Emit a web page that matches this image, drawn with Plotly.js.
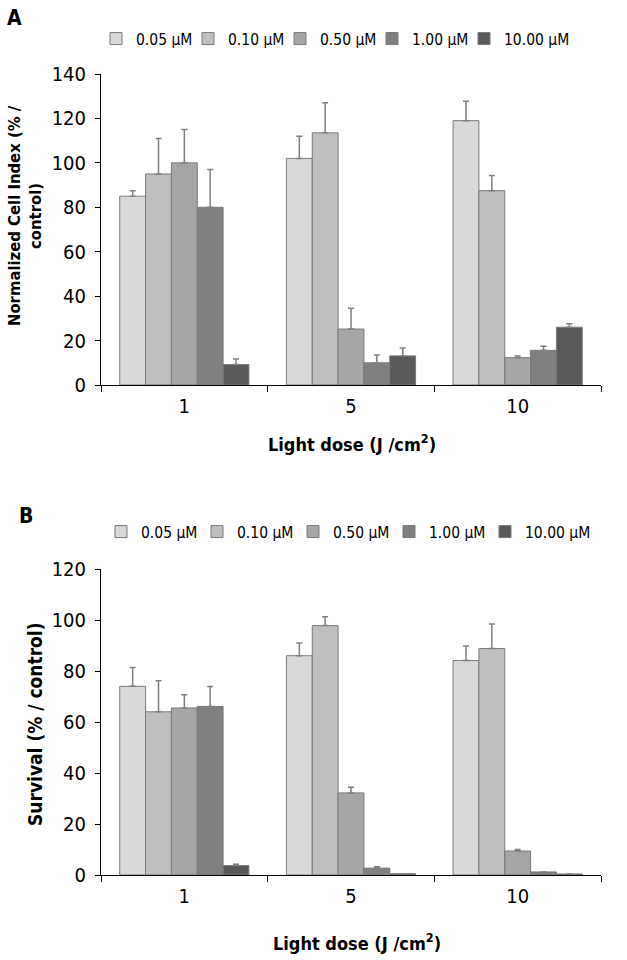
<!DOCTYPE html>
<html>
<head>
<meta charset="utf-8">
<script src="https://cdn.plot.ly/plotly-3.0.1.min.js"></script>
<style>
  html, body { margin: 0; padding: 0; background: #ffffff; }
  #chart { width: 627px; height: 960px; }
</style>
</head>
<body>
<div id="chart"></div>
<script>
var doses = ['1', '5', '10'];
var concentrations = ['0.05 µM', '0.10 µM', '0.50 µM', '1.00 µM', '10.00 µM'];
var barColors = ['#d9d9d9', '#bfbfbf', '#a6a6a6', '#808080', '#595959'];

// panel A: normalized cell index, one array per concentration (doses 1, 5, 10)
var cellIndex005 = [85, 102, 119];
var cellIndex010 = [95, 113.5, 87.5];
var cellIndex050 = [100, 25.2, 12.3];
var cellIndex100 = [80, 10, 15.6];
var cellIndex1000 = [9.2, 13.1, 26];
var cellIndexErr005 = [2.5, 10, 8.7];
var cellIndexErr010 = [16, 13.6, 6.8];
var cellIndexErr050 = [15, 9.3, 0.8];
var cellIndexErr100 = [17, 3.5, 1.8];
var cellIndexErr1000 = [2.5, 3.6, 1.6];

// panel B: survival
var survival005 = [74, 86, 84.1];
var survival010 = [64, 97.8, 88.8];
var survival050 = [65.5, 32.2, 9.4];
var survival100 = [66.1, 2.7, 1.2];
var survival1000 = [3.7, 0.5, 0.4];
var survivalErr005 = [7.4, 5, 5.7];
var survivalErr010 = [12.2, 3.5, 9.6];
var survivalErr050 = [5.2, 2.2, 0.6];
var survivalErr100 = [7.8, 0.5, 0];
var survivalErr1000 = [0.5, 0, 0];

var cellIndexSeries = [cellIndex005, cellIndex010, cellIndex050, cellIndex100, cellIndex1000];
var cellIndexErrors = [cellIndexErr005, cellIndexErr010, cellIndexErr050, cellIndexErr100, cellIndexErr1000];
var survivalSeries = [survival005, survival010, survival050, survival100, survival1000];
var survivalErrors = [survivalErr005, survivalErr010, survivalErr050, survivalErr100, survivalErr1000];

var fontFamily = 'DejaVu Sans Condensed, DejaVu Sans, sans-serif';

function make_bar(name, i, values, errors, xaxis, yaxis, legend) {
  var trace = {
    type: 'bar',
    name: name,
    x: doses,
    y: values,
    xaxis: xaxis,
    yaxis: yaxis,
    legend: legend,
    marker: {
      color: barColors[i],
      line: { color: '#7a7a7a', width: 1 }
    },
    error_y: {
      type: 'data',
      symmetric: false,
      array: errors,
      arrayminus: values.map(function () { return 0; }),
      color: '#7f7f7f',
      thickness: 1.5,
      width: 3
    },
    hoverinfo: 'name+y'
  };
  // last entry gets room for its whole label
  if (i === concentrations.length - 1) {
    trace.legendwidth = 85;
  }
  return trace;
}

var traces = [];
concentrations.forEach(function (name, i) {
  traces.push(make_bar(name, i, cellIndexSeries[i], cellIndexErrors[i], 'x', 'y', 'legend'));
});
concentrations.forEach(function (name, i) {
  traces.push(make_bar(name, i, survivalSeries[i], survivalErrors[i], 'x2', 'y2', 'legend2'));
});

function x_axis(anchor) {
  return {
    anchor: anchor,
    domain: [101 / 627, 601 / 627],
    type: 'category',
    showline: true,
    linecolor: '#000000',
    linewidth: 1,
    ticks: 'outside',
    tickson: 'boundaries',
    ticklen: 6,
    tickcolor: '#000000',
    tickfont: { family: fontFamily, size: 20, color: '#000000' },
    ticklabelstandoff: 3,
    showgrid: false,
    zeroline: false,
    automargin: false,
    fixedrange: true
  };
}

function y_axis(anchor, domain, range) {
  return {
    anchor: anchor,
    domain: domain,
    range: range,
    dtick: 20,
    showline: true,
    linecolor: '#000000',
    linewidth: 1,
    ticks: 'outside',
    ticklen: 5,
    tickcolor: '#000000',
    tickfont: { family: fontFamily, size: 20, color: '#000000' },
    ticklabelstandoff: 5,
    showgrid: false,
    zeroline: false,
    automargin: false,
    fixedrange: true
  };
}

function legend_box(x, y, entryWidth) {
  return {
    orientation: 'h',
    x: x,
    xanchor: 'left',
    y: y,
    yanchor: 'middle',
    entrywidth: entryWidth,
    entrywidthmode: 'pixels',
    itemclick: false,
    itemdoubleclick: false,
    font: { family: fontFamily, size: 15.5, color: '#000000' },
    bgcolor: 'rgba(0,0,0,0)'
  };
}

function note(text, x, y, size, angle) {
  return {
    text: text,
    xref: 'paper',
    yref: 'paper',
    x: x,
    y: y,
    xanchor: 'center',
    yanchor: 'middle',
    showarrow: false,
    textangle: angle || 0,
    font: { family: fontFamily, size: size, color: '#000000', weight: 'bold' }
  };
}

var layout = {
  width: 627,
  height: 960,
  margin: { l: 0, r: 0, t: 0, b: 0, pad: 0 },
  paper_bgcolor: '#ffffff',
  plot_bgcolor: '#ffffff',
  font: { family: fontFamily, color: '#000000' },
  barmode: 'group',
  bargap: 0.225,
  bargroupgap: 0,
  showlegend: true,
  xaxis: x_axis('y'),
  yaxis: y_axis('x', [1 - 385 / 960, 1 - 74 / 960], [0, 140]),
  xaxis2: x_axis('y2'),
  yaxis2: y_axis('x2', [1 - 875 / 960, 1 - 569 / 960], [0, 120]),
  legend: legend_box(96 / 627, 1 - 39 / 960, 47),
  legend2: legend_box(101 / 627, 1 - 532 / 960, 51),
  annotations: [
    note('A', 14 / 627, 1 - 18 / 960, 21),
    note('B', 26 / 627, 1 - 516 / 960, 21),
    note('Normalized Cell Index (% /<br>control)', 25 / 627, 1 - 216 / 960, 16.5, -90),
    note('Survival (% / control)', 35 / 627, 1 - 724 / 960, 19, -90),
    note('Light dose (J /cm<sup>2</sup>)', 352 / 627, 1 - 443 / 960, 18),
    note('Light dose (J /cm<sup>2</sup>)', 357 / 627, 1 - 942 / 960, 18)
  ]
};

var config = {
  responsive: false,
  displayModeBar: false
};

Plotly.newPlot('chart', traces, layout, config);
</script>
</body>
</html>
